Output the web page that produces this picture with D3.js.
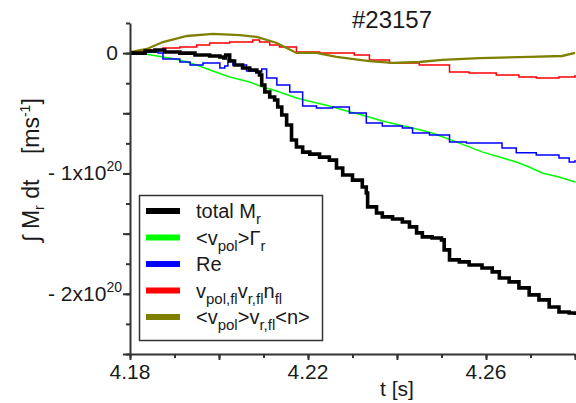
<!DOCTYPE html>
<html>
<head>
<meta charset="utf-8">
<script src="https://cdn.jsdelivr.net/npm/d3@7"></script>
<style>
  html, body { margin: 0; padding: 0; background: #fff; }
  svg { display: block; font-family: "Liberation Sans", Arial, sans-serif; }
</style>
</head>
<body>
<svg id="chart" width="576" height="403"></svg>
<script>
// Time-integrated radial momentum flux, shot #23157 (values in units of 1e20 m s^-1)
const shotTitle = "#23157";

// [t (s), value (1e20)]
const totalMr = [
  [4.1800, 0.000], [4.1834, 0.017], [4.1856, 0.026], [4.1878, 0.009], [4.1912, 0.000],
  [4.1946, -0.016], [4.1979, -0.024], [4.2002, -0.032], [4.2011, -0.041], [4.2015, -0.016],
  [4.2024, -0.066], [4.2035, -0.099], [4.2053, -0.124], [4.2069, -0.141], [4.2085, -0.157],
  [4.2091, -0.182], [4.2096, -0.265], [4.2103, -0.323], [4.2114, -0.365], [4.2125, -0.390],
  [4.2132, -0.448], [4.2141, -0.514], [4.2152, -0.597], [4.2163, -0.722], [4.2174, -0.780],
  [4.2188, -0.823], [4.2204, -0.839], [4.2226, -0.864], [4.2248, -0.889], [4.2264, -0.955],
  [4.2278, -1.013], [4.2300, -1.055], [4.2322, -1.113], [4.2331, -1.162], [4.2334, -1.278],
  [4.2354, -1.328], [4.2367, -1.361], [4.2390, -1.378], [4.2412, -1.403], [4.2428, -1.444],
  [4.2444, -1.494], [4.2457, -1.527], [4.2479, -1.536], [4.2500, -1.552], [4.2506, -1.635],
  [4.2518, -1.718], [4.2540, -1.735], [4.2562, -1.760], [4.2591, -1.785], [4.2614, -1.818],
  [4.2630, -1.868], [4.2652, -1.901], [4.2674, -1.951], [4.2697, -2.009], [4.2719, -2.050],
  [4.2742, -2.109], [4.2764, -2.151], [4.2787, -2.159], [4.2800, -2.175]
];

const vpolGamma = [
  [4.1800, 0.000], [4.1834, -0.008], [4.1874, -0.032], [4.1912, -0.057], [4.1950, -0.099],
  [4.1986, -0.149], [4.2024, -0.199], [4.2069, -0.240], [4.2098, -0.282], [4.2136, -0.323],
  [4.2174, -0.373], [4.2210, -0.406], [4.2248, -0.439], [4.2287, -0.481], [4.2322, -0.514],
  [4.2367, -0.564], [4.2405, -0.597], [4.2444, -0.630], [4.2479, -0.664], [4.2533, -0.738],
  [4.2591, -0.821], [4.2630, -0.863], [4.2668, -0.905], [4.2697, -0.946], [4.2726, -0.996],
  [4.2764, -1.030], [4.2800, -1.071]
];

const reynolds = [
  [4.1800, 0.000], [4.1834, 0.009], [4.1863, 0.000], [4.1874, -0.049], [4.1912, -0.074],
  [4.1935, -0.099], [4.1964, -0.082], [4.2002, -0.124], [4.2013, -0.107], [4.2020, -0.057],
  [4.2031, -0.099], [4.2062, -0.149], [4.2085, -0.157], [4.2096, -0.132], [4.2107, -0.207],
  [4.2130, -0.265], [4.2159, -0.323], [4.2188, -0.439], [4.2219, -0.456], [4.2255, -0.448],
  [4.2293, -0.498], [4.2331, -0.581], [4.2367, -0.606], [4.2412, -0.622], [4.2435, -0.664],
  [4.2473, -0.680], [4.2518, -0.738], [4.2556, -0.746], [4.2614, -0.746], [4.2636, -0.788],
  [4.2668, -0.829], [4.2713, -0.846], [4.2764, -0.871], [4.2787, -0.905], [4.2800, -0.888]
];

const fluctTriple = [
  [4.1800, 0.009], [4.1838, 0.026], [4.1874, 0.042], [4.1912, 0.051], [4.1950, 0.067],
  [4.1979, 0.084], [4.2024, 0.092], [4.2076, 0.109], [4.2091, 0.092], [4.2114, 0.067],
  [4.2136, 0.051], [4.2174, 0.009], [4.2226, 0.000], [4.2271, 0.000], [4.2304, -0.016],
  [4.2338, -0.057], [4.2383, -0.082], [4.2450, -0.099], [4.2518, -0.157], [4.2562, -0.165],
  [4.2623, -0.182], [4.2674, -0.199], [4.2713, -0.207], [4.2764, -0.199], [4.2800, -0.182]
];

const meanVpolVrN = [
  [4.1800, 0.009], [4.1838, 0.034], [4.1874, 0.092], [4.1928, 0.142], [4.1986, 0.159],
  [4.2047, 0.150], [4.2085, 0.134], [4.2130, 0.084], [4.2174, 0.001], [4.2219, 0.001],
  [4.2264, -0.032], [4.2338, -0.066], [4.2390, -0.082], [4.2450, -0.074], [4.2502, -0.057],
  [4.2585, -0.041], [4.2697, -0.032], [4.2771, -0.024], [4.2800, 0.001]
];

const xDomain = [4.18, 4.28];
const yDomain = [-2.5, 0.25];
const xTickLabels = [4.18, 4.22, 4.26];
const yTickLabels = [0, -1, -2];

// legend entries: label pieces, "s" marks a subscript
const seriesNames = [
  [["total M"], ["r", "s"]],
  [["<v"], ["pol", "s"], [">Γ"], ["r", "s"]],
  [["Re"]],
  [["v"], ["pol,fl", "s"], ["v"], ["r,fl", "s"], ["n"], ["fl", "s"]],
  [["<v"], ["pol", "s"], [">v"], ["r,fl", "s"], ["<n>"]]
];
const seriesData = [totalMr, vpolGamma, reynolds, fluctTriple, meanVpolVrN];
const seriesColors = ["#000000", "#00ff00", "#0000ff", "#ff0000", "#808000"];
const seriesWidths = [3.6, 1.5, 1.5, 1.5, 2.3];
const seriesStepped = [true, false, true, true, false];

const svg = d3.select("#chart");
const plot = { left: 130, right: 575, top: 23, bottom: 354 };
const textColor = "#1a1a1a";
const axisColor = "#333";

const x = d3.scaleLinear().domain(xDomain).range([plot.left, plot.right]);
const y = d3.scaleLinear().domain(yDomain).range([plot.bottom, plot.top]);

// curves (first series drawn last so it sits on top)
const order = [1, 2, 3, 4, 0];
svg.append("g").selectAll("path").data(order).join("path")
  .attr("d", i => d3.line()
      .x(d => x(d[0])).y(d => y(d[1]))
      .curve(seriesStepped[i] ? d3.curveStepAfter : d3.curveLinear)(seriesData[i]))
  .attr("fill", "none")
  .attr("stroke", i => seriesColors[i])
  .attr("stroke-width", i => seriesWidths[i])
  .attr("stroke-linejoin", "miter");

// axes
const xMinor = d3.range(0, 11).map(i => +(4.18 + i * 0.01).toFixed(2));
const xMajor = d3.range(0, 6).map(i => +(4.18 + i * 0.02).toFixed(2));
const yMinor = d3.range(0, 12).map(i => +(0.25 - i * 0.25).toFixed(2));
const yMajor = d3.range(0, 6).map(i => +(0 - i * 0.5).toFixed(2));

function styleAxis(g) {
  g.selectAll("path, line").attr("stroke", axisColor).attr("stroke-width", 2);
  g.selectAll("text").remove();
}

svg.append("g").attr("transform", `translate(0,${plot.bottom})`)
  .call(d3.axisBottom(x).tickValues(xMinor).tickSize(4).tickSizeOuter(0).tickFormat(""))
  .call(styleAxis);
svg.append("g").attr("transform", `translate(0,${plot.bottom})`)
  .call(d3.axisBottom(x).tickValues(xMajor).tickSize(6).tickSizeOuter(0).tickFormat(""))
  .call(g => g.select(".domain").remove())
  .call(styleAxis);
svg.append("g").attr("transform", `translate(${plot.left},0)`)
  .call(d3.axisLeft(y).tickValues(yMinor).tickSize(4).tickSizeOuter(0).tickFormat(""))
  .call(styleAxis);
svg.append("g").attr("transform", `translate(${plot.left},0)`)
  .call(d3.axisLeft(y).tickValues(yMajor).tickSize(7).tickSizeOuter(0).tickFormat(""))
  .call(g => g.select(".domain").remove())
  .call(styleAxis);

// x tick labels
svg.append("g").selectAll("text").data(xTickLabels).join("text")
  .attr("x", d => x(d)).attr("y", plot.bottom + 25)
  .attr("text-anchor", "middle").attr("font-size", 21).attr("fill", textColor)
  .text(d => d.toFixed(2));

// y tick labels with power-of-ten notation
yTickLabels.forEach(v => {
  const t = svg.append("text")
    .attr("x", v === 0 ? plot.left - 12 : plot.left - 8)
    .attr("y", y(v) + 7)
    .attr("text-anchor", "end").attr("font-size", 21).attr("fill", textColor);
  if (v === 0) {
    t.text("0");
  } else {
    t.append("tspan").text(`- ${Math.abs(v)}x10`);
    t.append("tspan").attr("dy", -9).attr("font-size", 14).text("20");
  }
});

// axis titles
svg.append("text").attr("x", 397).attr("y", 396)
  .attr("text-anchor", "middle").attr("font-size", 21).attr("fill", textColor)
  .text("t [s]");

const yt = svg.append("text")
  .attr("transform", "translate(39,170) rotate(-90)")
  .attr("xml:space", "preserve").style("white-space", "pre")
  .attr("text-anchor", "middle").attr("font-size", 23).attr("fill", textColor);
yt.append("tspan").text("∫ M");
yt.append("tspan").attr("dy", 5).attr("font-size", 14).text("r");
yt.append("tspan").attr("dy", -5).text(" dt    [ms");
yt.append("tspan").attr("dy", -9).attr("font-size", 14).text("-1");
yt.append("tspan").attr("dy", 9).text("]");

// title
svg.append("text").attr("x", 392).attr("y", 28)
  .attr("text-anchor", "middle").attr("font-size", 24).attr("fill", textColor)
  .text(shotTitle);

// legend
const legend = svg.append("g");
legend.append("rect").attr("x", 139.5).attr("y", 195.5).attr("width", 183).attr("height", 145)
  .attr("fill", "#fff").attr("stroke", axisColor).attr("stroke-width", 1.5);
const rowY = d3.scalePoint().domain(d3.range(seriesNames.length)).range([211, 317]);
seriesNames.forEach((parts, i) => {
  const cy = rowY(i);
  legend.append("line").attr("x1", 146).attr("x2", 180).attr("y1", cy).attr("y2", cy)
    .attr("stroke", seriesColors[i]).attr("stroke-width", 6);
  const t = legend.append("text").attr("x", 196).attr("y", cy + 7)
    .attr("font-size", 20).attr("fill", textColor);
  let shifted = false;
  parts.forEach(([s, kind]) => {
    const sp = t.append("tspan").text(s);
    if (kind === "s" && !shifted) { sp.attr("dy", 6).attr("font-size", 15); shifted = true; }
    else if (kind !== "s" && shifted) { sp.attr("dy", -6); shifted = false; }
    else if (kind === "s") { sp.attr("font-size", 15); }
  });
});
</script>
</body>
</html>
